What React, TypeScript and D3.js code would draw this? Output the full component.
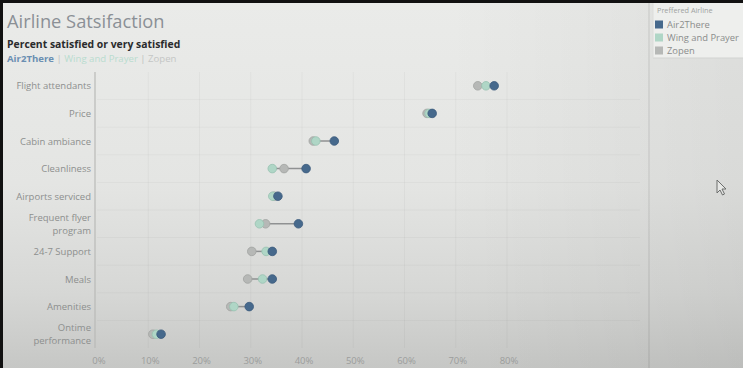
import React from "react";
import * as d3 from "d3";

// Satisfaction aspects, top to bottom
const aspects = [
  "Flight attendants",
  "Price",
  "Cabin ambiance",
  "Cleanliness",
  "Airports serviced",
  "Frequent flyer program",
  "24-7 Support",
  "Meals",
  "Amenities",
  "Ontime performance",
];

// Percent satisfied or very satisfied, per airline (same order as aspects)
const air2There = [77.5, 65.4, 46.3, 40.8, 35.3, 39.3, 34.2, 34.2, 29.7, 12.5];
const wingAndPrayer = [75.9, 64.8, 42.7, 34.2, 34.3, 31.7, 33.0, 32.3, 26.7, 11.6];
const zopen = [74.3, 64.4, 42.2, 36.5, 34.6, 32.9, 30.2, 29.4, 26.1, 10.9];

const airlines = ["Air2There", "Wing and Prayer", "Zopen"];
const tickValues = [0, 10, 20, 30, 40, 50, 60, 70, 80];

// Two-line wrapping used for long row labels
const labelLines: Record<string, string[]> = {
  "Frequent flyer program": ["Frequent flyer", "program"],
  "Ontime performance": ["Ontime", "performance"],
};

const W = 743;
const H = 368;
const FONT = "'Open Sans', 'Noto Sans', sans-serif";

const colors: Record<string, { fill: string; stroke: string }> = {
  Air2There: { fill: "#46698c", stroke: "#3b5b7c" },
  "Wing and Prayer": { fill: "#afd6c6", stroke: "#98c2b1" },
  Zopen: { fill: "#b6b8b6", stroke: "#a1a3a1" },
};

export default function App() {
  const x = d3.scaleLinear().domain([0, 80]).range([97, 507]);
  const y = d3.scaleBand<string>().domain(aspects).range([72, 348]);
  const bw = y.bandwidth();

  const rows = aspects.map((a, i) => ({
    aspect: a,
    values: {
      Zopen: zopen[i],
      "Wing and Prayer": wingAndPrayer[i],
      Air2There: air2There[i],
    } as Record<string, number>,
  }));

  const drawOrder = ["Zopen", "Wing and Prayer", "Air2There"];

  return (
    <svg
      width={W}
      height={H}
      style={{ position: "fixed", left: 0, top: 0, display: "block" }}
      fontFamily={FONT}
    >
      <defs>
        <linearGradient id="bgV" x1="0" y1="0" x2="0" y2="1">
          <stop offset="0" stopColor="#eaebe9" />
          <stop offset="0.5" stopColor="#e4e5e3" />
          <stop offset="0.8" stopColor="#d6d7d5" />
          <stop offset="1" stopColor="#c6c7c5" />
        </linearGradient>
        <linearGradient id="bgH" x1="0" y1="0" x2="1" y2="0">
          <stop offset="0" stopColor="#000" stopOpacity="0" />
          <stop offset="0.6" stopColor="#000" stopOpacity="0" />
          <stop offset="1" stopColor="#000" stopOpacity="0.05" />
        </linearGradient>
      </defs>

      {/* backdrop */}
      <rect x={0} y={0} width={W} height={H} fill="url(#bgV)" />
      <rect x={0} y={0} width={W} height={H} fill="url(#bgH)" />

      {/* row separators */}
      {aspects.slice(1).map((a) => (
        <line
          key={"r" + a}
          x1={97}
          x2={640}
          y1={y(a)!}
          y2={y(a)!}
          stroke="#000"
          strokeOpacity={0.03}
        />
      ))}

      {/* vertical gridlines */}
      {tickValues.slice(1).map((t) => (
        <line
          key={"g" + t}
          x1={x(t)}
          x2={x(t)}
          y1={72}
          y2={348}
          stroke="#000"
          strokeOpacity={0.03}
        />
      ))}

      {/* left axis rule */}
      <line x1={95} x2={95} y1={72} y2={348} stroke="#b9bab8" strokeWidth={1.2} />

      {/* row labels */}
      {aspects.map((a) => {
        const lines = labelLines[a] || [a];
        const cy = y(a)! + bw / 2;
        const lh = 13;
        return (
          <text
            key={"l" + a}
            x={91}
            textAnchor="end"
            fontSize={9.5}
            fill="#8d8f8e"
          >
            {lines.map((ln, k) => (
              <tspan
                key={k}
                x={91}
                y={cy + (k - (lines.length - 1) / 2) * lh}
                dominantBaseline="central"
              >
                {ln}
              </tspan>
            ))}
          </text>
        );
      })}

      {/* x-axis tick labels */}
      {tickValues.map((t) => (
        <text
          key={"t" + t}
          x={x(t) + 2}
          y={360}
          textAnchor="middle"
          dominantBaseline="central"
          fontSize={9.5}
          fill="#9b9d9c"
        >
          {d3.format(".0%")(t / 100)}
        </text>
      ))}

      {/* dumbbells */}
      {rows.map((r) => {
        const vals = airlines.map((k) => r.values[k]);
        const lo = d3.min(vals)!;
        const hi = d3.max(vals)!;
        const cy = y(r.aspect)! + bw / 2;
        return (
          <g key={"d" + r.aspect}>
            <line
              x1={x(lo)}
              x2={x(hi)}
              y1={cy}
              y2={cy}
              stroke="#8f9192"
              strokeWidth={1.5}
            />
            {drawOrder.map((k) => (
              <circle
                key={k}
                cx={x(r.values[k])}
                cy={cy}
                r={4.3}
                fill={colors[k].fill}
                stroke={colors[k].stroke}
                strokeWidth={0.8}
              />
            ))}
          </g>
        );
      })}

      {/* titles */}
      <text x={7} y={27.5} fontSize={18.3} fill="#8b9096">
        Airline Satsifaction
      </text>
      <text x={7} y={48} fontSize={10.4} fontWeight="bold" fill="#2a2b2c">
        Percent satisfied or very satisfied
      </text>
      <text x={7} y={62} fontSize={9.6} fill="#bdbfbe">
        <tspan fill="#6a8fb2" fontWeight="bold">Air2There</tspan>
        <tspan> | </tspan>
        <tspan fill="#b9dccf">Wing and Prayer</tspan>
        <tspan> | </tspan>
        <tspan fill="#c4c6c5">Zopen</tspan>
      </text>

      {/* legend panel */}
      <rect x={648} y={0} width={2} height={H} fill="#000" fillOpacity={0.06} />
      <rect x={653} y={3} width={W - 653} height={55} fill="#eeefed" />
      <line x1={653} x2={W} y1={58} y2={58} stroke="#d2d3d1" />
      <line x1={653} x2={653} y1={3} y2={58} stroke="#dcdddb" />
      <text x={657} y={10} fontSize={7.3} fill="#a0a2a1" dominantBaseline="central">
        Preffered Airline
      </text>
      {airlines.map((k, i) => (
        <g key={"lg" + k}>
          <rect
            x={655}
            y={20.5 + i * 13}
            width={8}
            height={8}
            fill={colors[k].fill}
          />
          <text
            x={667}
            y={24.5 + i * 13}
            fontSize={9.4}
            fill="#8b8d8c"
            dominantBaseline="central"
          >
            {k}
          </text>
        </g>
      ))}

      {/* mouse pointer */}
      <path
        d="M717,180 L717,193 L720,190 L722.5,195 L724.5,194 L722,189 L726,189 Z"
        fill="#e6e7e5"
        stroke="#6c6e6d"
        strokeWidth={1}
      />

      {/* screen frame edges */}
      <rect x={0} y={0} width={W} height={3} fill="#111" />
      <rect x={0} y={0} width={3} height={H} fill="#111" />
    </svg>
  );
}
